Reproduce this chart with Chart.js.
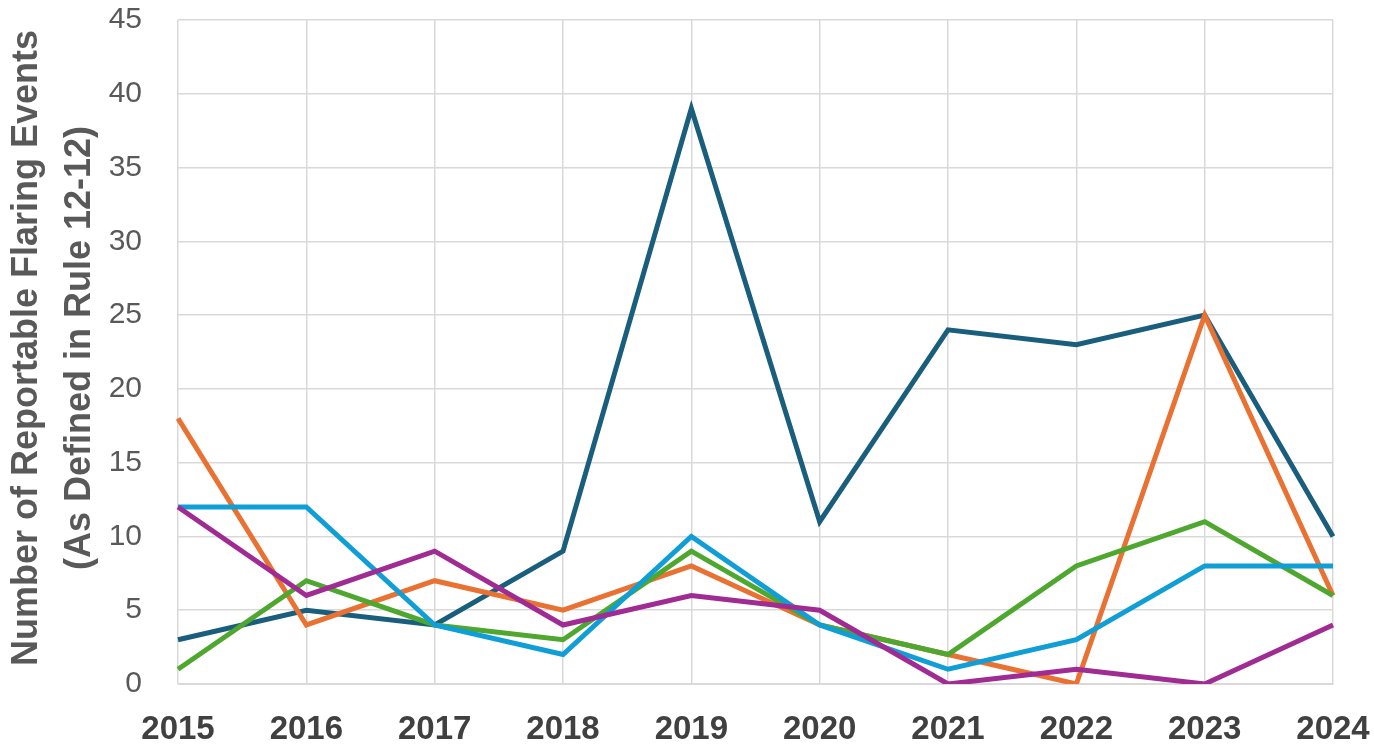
<!DOCTYPE html>
<html>
<head>
<meta charset="utf-8">
<script src="https://cdn.jsdelivr.net/npm/chart.js@4.4.1/dist/chart.umd.min.js"></script>
<style>
html,body{margin:0;padding:0;background:#fff;}
#wrap{width:1374px;height:751px;position:relative;}
</style>
</head>
<body>
<div id="wrap"><canvas id="c"></canvas></div>
<script>
const years = ['2015','2016','2017','2018','2019','2020','2021','2022','2023','2024'];
const seriesDarkBlue = [3,5,4,9,39,11,24,23,25,10];
const seriesOrange = [18,4,7,5,8,4,2,0,25,6];
const seriesGreen = [1,7,4,3,9,4,2,8,11,6];
const seriesLightBlue = [12,12,4,2,10,4,1,3,8,8];
const seriesPurple = [12,6,9,4,6,5,0,1,0,4];
const yTitle = ['Number of Reportable Flaring Events','(As Defined in Rule 12-12)'];

function ds(data,color){
  return {data:data,borderColor:color,backgroundColor:color,borderWidth:5,pointRadius:0,tension:0,fill:false,borderJoinStyle:'miter'};
}

// Condensed vertical axis title (the reference uses a narrow bold face)
const narrowTitle = {
  id:'narrowTitle',
  afterDraw(chart){
    const ctx = chart.ctx, area = chart.chartArea;
    ctx.save();
    ctx.font = 'bold 37px "Liberation Sans", Arial, sans-serif';
    ctx.fillStyle = '#595959';
    ctx.textAlign = 'center';
    ctx.textBaseline = 'alphabetic';
    const w1 = ctx.measureText(yTitle[0]).width;
    const sx = 636 / w1;
    const cy = (area.top + area.bottom) / 2 - 4;
    const baselines = [37, 90];
    yTitle.forEach((t,i)=>{
      ctx.save();
      ctx.translate(baselines[i], cy);
      ctx.rotate(-Math.PI/2);
      ctx.scale(sx,1);
      ctx.fillText(t,0,0);
      ctx.restore();
    });
    ctx.restore();
  }
};

new Chart(document.getElementById('c'),{
  type:'line',
  data:{labels:years,datasets:[
    ds(seriesPurple,'#A02B93'),
    ds(seriesLightBlue,'#0F9ED5'),
    ds(seriesGreen,'#4EA72E'),
    ds(seriesOrange,'#E97132'),
    ds(seriesDarkBlue,'#1A5E7E')
  ]},
  plugins:[narrowTitle],
  options:{
    responsive:true,maintainAspectRatio:false,animation:false,
    layout:{autoPadding:false,padding:{top:20,right:41,left:0,bottom:1}},
    plugins:{legend:{display:false},tooltip:{enabled:false}},
    scales:{
      x:{offset:false,
        grid:{color:'#D9D9D9',lineWidth:1.5,drawTicks:false},
        border:{color:'#D9D9D9'},
        ticks:{color:'#404040',padding:26,maxRotation:0,autoSkip:false,font:{family:'Liberation Sans, Arial',size:33,weight:'bold'}},
        afterFit(s){ s.height = 66; s.paddingLeft = 0; s.paddingRight = 0; s.paddingTop = 0; s.paddingBottom = 0; }
      },
      y:{min:0,max:45,
        grid:{color:'#D9D9D9',lineWidth:1.5,drawTicks:false},
        border:{display:false},
        ticks:{stepSize:5,color:'#595959',padding:36,font:{family:'Liberation Sans, Arial',size:30}},
        afterFit(s){ s.width = 178; s.paddingLeft = 0; s.paddingRight = 0; s.paddingTop = 0; s.paddingBottom = 0; }
      }
    }
  }
});
</script>
</body>
</html>
